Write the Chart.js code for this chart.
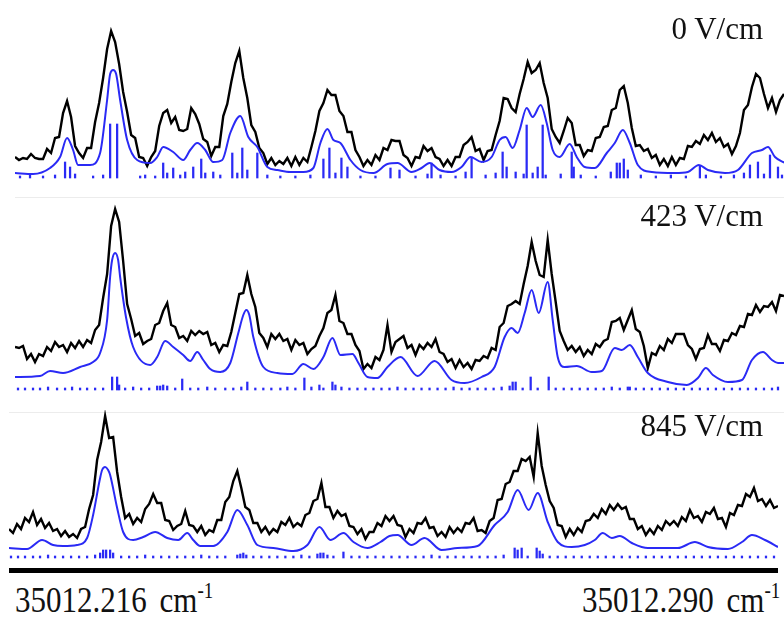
<!DOCTYPE html>
<html lang="en">
<head>
<meta charset="UTF-8">
<title>Stark spectra</title>
<script src="https://cdn.jsdelivr.net/npm/chart.js"></script>
<style>
  body { margin: 0; background: #fff; }
  #page { position: relative; width: 784px; height: 617px; overflow: hidden; font-family: "Liberation Serif", "Times New Roman", serif; color: #111; }
  canvas { position: absolute; }
  .field { position: absolute; right: 21px; font-size: 31px; line-height: 31px; white-space: nowrap; }
  .sep { position: absolute; height: 1px; background: #ececec; }
  .axis-line { position: absolute; left: 9px; top: 568px; width: 769px; height: 5px; background: #000; }
  .tick { position: absolute; top: 581px; font-size: 31px; line-height: 31px; transform: scale(1, 1.18); transform-origin: 0 0; white-space: nowrap; word-spacing: 5px; }
  .tick sup { font-size: 19px; vertical-align: 0; position: relative; top: -12px; }
</style>
</head>
<body>
<div id="page">
  <div class="sep" style="left:15px; top:197px; width:769px;"></div>
  <div class="sep" style="left:9px; top:412px; width:775px;"></div>

  <canvas id="c0" width="769" height="180" style="left:15px; top:0px;"></canvas>
  <canvas id="c1" width="769" height="202" style="left:15px; top:190px;"></canvas>
  <canvas id="c2" width="769" height="150" style="left:9px; top:410px;"></canvas>

  <div class="field" id="f0" style="top:13px;"></div>
  <div class="field" id="f1" style="top:200px;"></div>
  <div class="field" id="f2" style="top:410px;"></div>

  <div class="axis-line"></div>
  <div class="tick" id="t0" style="left:15px;"></div>
  <div class="tick" id="t1" style="left:582px;"></div>
</div>

<script>
// field strengths and the two end labels of the scan
const fieldLabels = ['0 V/cm', '423 V/cm', '845 V/cm'];
const tickLabels = ['35012.216', '35012.290'];
const tickUnit = 'cm';

// scan position step between recorded points (arb. scan units, 0..768)
const STEP = 4;

// measured spectra (black), one value per scan step
const meas0 = [
  21,18,20,19,24,20,19,19,29,25,
  40,41,65,77,61,32,25,20,30,30,
  56,75,100,129,147,136,114,86,66,43,
  40,21,20,12,21,27,52,65,68,55,
  61,48,47,49,70,64,54,39,36,22,
  31,31,62,74,96,115,127,100,80,53,
  46,30,25,14,20,13,17,14,20,12,
  21,13,20,16,31,47,67,75,88,83,
  83,67,62,46,46,28,21,12,18,13,
  23,18,30,28,38,37,37,23,20,12,
  21,20,32,27,30,21,19,12,18,12,
  21,21,33,36,41,27,29,18,27,28,
  43,57,80,79,70,66,84,99,116,105,
  108,115,95,80,49,41,35,47,60,55,
  33,33,22,28,27,40,41,51,52,68,
  70,88,92,75,50,32,33,27,29,20,
  23,13,19,12,21,13,20,19,32,31,
  37,34,43,38,45,36,40,31,34,24,
  32,45,68,73,91,104,100,84,70,80,
  66,78,84
];
const meas423 = [
  43,42,44,31,36,28,36,34,43,39,
  48,43,45,38,47,42,49,43,50,47,
  60,65,92,116,164,181,168,129,86,71,
  54,57,46,49,51,65,67,79,87,65,
  63,52,54,49,59,55,59,56,58,45,
  47,38,45,44,58,77,96,97,115,96,
  83,57,52,43,56,51,56,49,51,40,
  50,45,47,36,41,44,54,62,77,80,
  95,69,67,56,56,45,39,21,26,22,
  33,30,40,65,38,48,51,54,42,45,
  35,45,41,47,43,51,38,36,28,31,
  22,30,23,27,21,30,29,34,32,42,
  40,63,67,84,86,89,86,106,124,148,
  129,115,113,150,116,88,59,49,40,44,
  38,43,34,40,36,46,43,49,51,68,
  69,72,60,70,80,61,58,44,22,37,
  35,44,40,51,47,56,56,56,45,41,
  31,41,42,55,46,46,39,50,49,57,
  55,64,63,76,75,85,78,84,83,88,
  79,95,94
];
const meas845 = [
  29,25,34,29,40,36,46,33,39,30,
  35,27,29,22,27,21,24,20,29,31,
  49,63,98,116,142,120,121,86,61,40,
  44,34,40,36,49,54,64,55,55,38,
  37,28,32,34,47,33,32,26,32,23,
  28,26,38,38,56,61,77,87,70,51,
  48,35,35,26,31,24,29,26,36,33,
  40,31,35,32,43,45,57,59,75,51,
  51,40,47,42,44,32,31,24,29,19,
  26,26,35,32,42,37,42,33,32,21,
  29,25,35,34,40,30,31,22,26,21,
  31,25,30,26,35,34,40,27,28,25,
  37,40,58,59,74,76,87,87,99,97,
  101,81,125,92,73,57,50,33,32,21,
  29,23,30,26,37,38,44,40,49,44,
  53,48,54,49,51,39,39,29,32,23,
  29,24,32,28,37,33,37,32,41,37,
  48,40,42,36,46,44,50,39,40,31,
  45,43,53,52,64,61,70,57,59,52,
  58,50,52
];

// simulated spectra (blue), [scan position, intensity]
const sim0 = [
  [0,5],[18,4],[35,10],[45,21],[52,40],[58,28],[63,13],[75,13],[85,25],[92,78],
  [95,104],[98,108],[101,104],[105,78],[112,38],[122,18],[135,15],[142,21],[148,31],[158,26],
  [168,18],[175,28],[182,35],[190,28],[198,16],[207,18],[215,45],[225,62],[233,41],[242,31],
  [252,11],[262,8],[275,6],[288,6],[298,10],[305,35],[312,49],[318,38],[325,35],[335,18],
  [345,8],[358,5],[372,14],[382,15],[396,6],[406,10],[414,15],[424,8],[436,6],[446,11],
  [455,21],[466,16],[476,21],[484,38],[490,41],[497,30],[504,48],[511,70],[517,61],[525,73],
  [531,55],[537,28],[544,21],[554,34],[561,21],[569,11],[579,10],[591,25],[599,35],[607,48],
  [614,35],[622,13],[636,6],[659,5],[672,6],[683,13],[692,8],[709,5],[722,8],[736,25],
  [746,28],[752,31],[759,21],[769,15]
];
const sim423 = [
  [0,13],[25,14],[35,19],[48,17],[65,23],[78,28],[85,37],[92,70],[95,113],[97,130],
  [100,137],[103,130],[105,113],[111,72],[118,43],[135,25],[142,33],[150,49],[158,43],[168,35],
  [175,29],[182,38],[188,30],[195,21],[205,18],[215,27],[223,57],[228,75],[231,80],[234,75],
  [238,53],[248,23],[262,17],[277,16],[288,26],[298,21],[308,33],[317,52],[325,35],[337,36],
  [343,27],[352,13],[362,12],[372,23],[385,33],[402,14],[419,29],[436,10],[449,7],[466,13],
  [479,23],[489,53],[496,62],[502,57],[509,77],[516,100],[523,77],[532,108],[537,70],[542,33],
  [549,23],[561,24],[576,18],[586,19],[599,42],[606,40],[614,45],[622,33],[632,17],[652,8],
  [671,5],[682,12],[690,22],[697,15],[712,8],[726,10],[736,30],[747,38],[756,30],[762,27],
  [769,27]
];
const sim845 = [
  [0,10],[18,9],[33,18],[44,13],[54,12],[68,13],[78,20],[84,43],[91,80],[93,88],
  [96,91],[99,88],[101,83],[108,50],[114,26],[124,18],[134,21],[146,26],[158,20],[169,18],
  [178,25],[184,18],[191,12],[204,12],[218,26],[228,48],[238,33],[248,13],[264,10],[284,7],
  [298,13],[310,31],[321,18],[334,25],[344,16],[358,10],[371,16],[380,22],[388,23],[402,13],
  [415,20],[432,8],[448,10],[468,12],[485,33],[498,46],[508,68],[519,48],[528,65],[538,36],
  [548,16],[562,11],[575,13],[585,18],[593,25],[602,20],[610,22],[622,15],[638,10],[668,10],
  [685,16],[698,11],[718,9],[732,16],[742,23],[755,18],[768,11]
];

// calculated line positions (blue sticks), [scan position, strength]
const lines0 = [
  [50,16],[55,11],[95,54],[102,54],[148,15],[158,10],[178,11],[186,19],[198,6],[217,25],
  [227,30],[232,8],[242,25],[308,19],[314,30],[326,20],[332,11],[375,10],[384,8],[416,15],
  [456,21],[487,26],[491,11],[511,53],[517,5],[522,11],[527,53],[556,26],[558,11],[601,15],
  [604,15],[608,19],[612,8],[684,12],[734,13],[742,16],[754,23],[762,11],
  [5,2],[15,3],[28,2],[40,3],[60,4],[78,2],[88,3],[125,2],[130,3],[140,2],
  [152,5],[165,3],[170,6],[190,5],[205,3],[222,5],[252,3],[265,2],[280,2],[295,3],
  [320,5],[345,2],[360,2],[400,2],[412,4],[425,3],[440,2],[450,6],[470,3],[480,5],
  [500,6],[508,4],[530,3],[545,4],[565,3],[580,2],[595,6],[625,3],[640,2],[655,3],
  [670,2],[690,3],[705,2],[718,3],[728,5],[748,4],[766,3]
];
const lines423 = [
  [97,13],[102,13],[104,5],[142,4],[145,4],[148,5],[152,4],[167,11],[232,8],[289,12],
  [304,5],[317,8],[320,5],[497,8],[500,8],[515,13],[533,13],[612,3],[614,3],
  [3,2],[10,2],[18,2],[25,2],[33,3],[42,2],[50,2],[57,3],[65,2],[72,2],
  [80,2],[88,2],[110,2],[118,3],[126,2],[134,2],[160,2],[175,2],[183,2],[192,3],
  [200,2],[210,2],[218,2],[226,3],[240,2],[248,2],[256,2],[265,2],[272,3],[280,2],
  [296,3],[308,2],[326,3],[334,2],[342,2],[350,2],[358,2],[366,2],[374,2],[382,3],
  [390,2],[398,2],[406,2],[414,2],[422,2],[430,2],[438,3],[446,2],[454,2],[462,2],
  [470,2],[478,2],[486,3],[494,4],[507,2],[522,2],[540,2],[548,2],[556,2],[564,2],
  [572,2],[580,2],[588,2],[596,3],[604,2],[620,2],[628,2],[636,2],[644,2],[652,2],
  [660,2],[668,2],[676,2],[684,2],[692,2],[700,2],[708,2],[716,2],[724,2],[732,2],
  [740,2],[748,2],[756,2],[762,3]
];
const lines845 = [
  [91,5],[94,8],[97,8],[101,8],[104,5],[228,3],[231,4],[234,5],[237,3],[308,4],
  [311,5],[314,5],[318,3],[334,6],[505,10],[508,8],[512,10],[527,10],[530,7],[533,4],
  [2,2],[9,2],[16,2],[24,2],[31,2],[39,3],[46,2],[54,2],[62,2],[70,2],
  [78,2],[86,3],[112,2],[120,2],[128,2],[136,3],[144,2],[152,2],[160,2],[168,2],
  [176,2],[184,2],[192,3],[200,2],[208,2],[216,2],[244,2],[252,2],[260,2],[268,2],
  [276,2],[284,2],[292,3],[300,2],[324,2],[342,2],[350,2],[358,2],[366,2],[374,2],
  [382,2],[390,2],[398,2],[406,2],[414,2],[422,3],[430,2],[438,2],[446,2],[454,2],
  [462,2],[470,2],[478,2],[486,2],[494,3],[518,2],[540,2],[548,2],[556,2],[564,2],
  [572,2],[580,2],[588,2],[596,2],[604,2],[612,2],[620,2],[628,2],[636,2],[644,2],
  [652,2],[660,2],[668,2],[676,2],[684,2],[692,2],[700,2],[708,2],[716,2],[724,2],
  [732,2],[740,2],[748,2],[756,2],[764,2]
];

const BLUE = '#2a2af5';

function drawPanel(canvasId, meas, sim, lines, yMax) {
  new Chart(document.getElementById(canvasId), {
    type: 'line',
    data: {
      datasets: [
        {
          type: 'line',
          data: meas.map((v, i) => ({ x: i * STEP, y: v })),
          borderColor: '#000',
          borderWidth: 2.4,
          borderJoinStyle: 'miter',
          pointRadius: 0,
          order: 2
        },
        {
          type: 'line',
          data: sim.map(p => ({ x: p[0], y: p[1] })),
          borderColor: BLUE,
          borderWidth: 2,
          pointRadius: 0,
          cubicInterpolationMode: 'monotone',
          order: 1
        },
        {
          type: 'bar',
          data: lines.map(p => ({ x: p[0], y: p[1] })),
          backgroundColor: BLUE,
          barThickness: 1.6,
          order: 3
        }
      ]
    },
    options: {
      responsive: false,
      animation: false,
      events: [],
      layout: { padding: 0 },
      plugins: { legend: { display: false }, tooltip: { enabled: false } },
      scales: {
        x: { type: 'linear', min: 0, max: 768, display: false, offset: false },
        y: { min: -2, max: yMax, display: false }
      }
    }
  });
}

drawPanel('c0', meas0, sim0, lines0, 178);
drawPanel('c1', meas423, sim423, lines423, 200);
drawPanel('c2', meas845, sim845, lines845, 148);

// labels
fieldLabels.forEach((t, i) => { document.getElementById('f' + i).textContent = t; });
tickLabels.forEach((t, i) => {
  document.getElementById('t' + i).innerHTML = t + ' ' + tickUnit + '<sup>-1</sup>';
});
</script>
</body>
</html>
